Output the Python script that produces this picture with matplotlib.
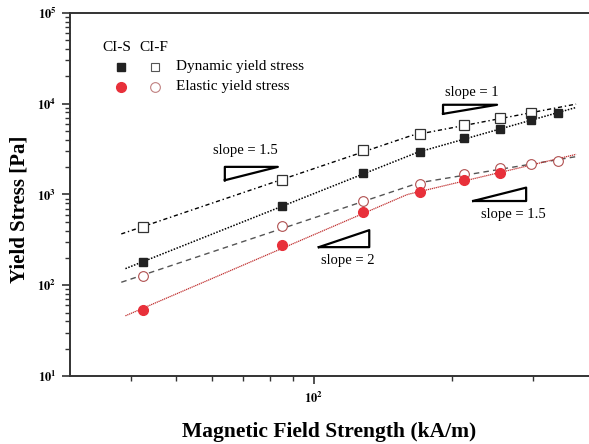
import numpy as np
import matplotlib.pyplot as plt
from matplotlib.ticker import FixedLocator, NullFormatter, LogLocator

plt.rcParams['font.family'] = ['Liberation Serif', 'DejaVu Serif']
plt.rcParams['mathtext.fontset'] = 'stix'

# magnetic field strength (kA/m)
field = [42.4, 85, 128, 170, 212, 255, 298, 341]

# yield stress (Pa)
dyn_cis = [180, 750, 1720, 2900, 4150, 5300, 6600, 7900]
dyn_cif = [440, 1450, 3100, 4600, 5800, 6900, 7900]
ela_cis = [53, 278, 640, 1060, 1450, 1720]
ela_cif = [125, 450, 850, 1290, 1700, 1960, 2150, 2350]

# slope guide annotations: (label, slope)
guides = [('slope = 1.5', 1.5), ('slope = 1', 1), ('slope = 2', 2), ('slope = 1.5', 1.5)]

XMIN, XMAX = 29.3, 398


def bent_fit(x, y, x0, x1):
    # two power-law fits (low / high field) joined where they cross
    lx, ly = np.log10(x), np.log10(y)
    a = np.polyfit(lx[:4], ly[:4], 1)
    b = np.polyfit(lx[3:], ly[3:], 1)
    xx = np.logspace(np.log10(x0), np.log10(x1), 200)
    yy = np.minimum(np.polyval(a, np.log10(xx)), np.polyval(b, np.log10(xx)))
    return xx, 10 ** yy


fig = plt.figure(figsize=(5.89, 4.44), dpi=100)
ax = fig.add_axes([0.118, 0.153, 0.882, 0.818])
ax.set_xscale('log')
ax.set_yscale('log')
ax.set_xlim(XMIN, XMAX)
ax.set_ylim(10, 1e5)

fx = np.array(field)
xx, yy = bent_fit(fx[:len(dyn_cif)], np.array(dyn_cif), 38, 373)
ax.plot(xx, yy, color='black', lw=1, ls=(0, (3, 2, 1, 2)))
xx, yy = bent_fit(fx, np.array(dyn_cis), 38.8, 373)
ax.plot(xx, yy, color='black', lw=1.1, ls=(0, (1, 1)))
xx, yy = bent_fit(fx, np.array(ela_cif), 38, 373)
ax.plot(xx, yy, color='#555555', lw=1, ls=(0, (4, 3)))
xx, yy = bent_fit(fx[:len(ela_cis)], np.array(ela_cis), 38.8, 373)
ax.plot(xx, yy, color='#c03030', lw=0.9, ls=(0, (1, 0.6)))

ax.plot(fx[:len(dyn_cif)], dyn_cif, 's', ms=6.5, mfc='white', mec='#333333', mew=0.9, ls='none')
ax.plot(fx, dyn_cis, 's', ms=6, color='#222222', ls='none')
ax.plot(fx, ela_cif, 'o', ms=7, mfc='white', mec='#b05050', mew=0.8, ls='none')
ax.plot(fx[:len(ela_cis)], ela_cis, 'o', ms=7, color='#e8303a', ls='none')

# slope triangles, corner and width in axes fraction
tri = [
    ((0.299, 0.576), 0.102, 'up', (0.338, 0.62)),
    ((0.719, 0.747), 0.104, 'up', (0.775, 0.782)),
    ((0.480, 0.355), 0.097, 'down', (0.536, 0.317)),
    ((0.777, 0.482), 0.102, 'down', (0.854, 0.446)),
]
for (lab, s), ((x0, y0), w, kind, tpos) in zip(guides, tri):
    h = w * s * np.log10(XMAX / XMIN) / 4 * 0.85
    if kind == 'up':
        pts = [(x0, y0 - h), (x0, y0), (x0 + w, y0), (x0, y0 - h)]
    else:
        pts = [(x0, y0), (x0 + w, y0), (x0 + w, y0 + h), (x0, y0)]
    px, py = zip(*pts)
    ax.plot(px, py, color='black', lw=1.6, transform=ax.transAxes, clip_on=False)
    ax.text(tpos[0], tpos[1], lab, transform=ax.transAxes, fontsize=10.5, ha='center', va='center')

# legend drawn by hand
ax.text(0.063, 0.904, 'CI-S', transform=ax.transAxes, fontsize=11, ha='left', va='center')
ax.text(0.135, 0.904, 'CI-F', transform=ax.transAxes, fontsize=11, ha='left', va='center')
ax.plot([0.099], [0.851], 's', ms=6, color='#222222', transform=ax.transAxes)
ax.plot([0.165], [0.851], 's', ms=6, mfc='white', mec='#555555', mew=0.8, transform=ax.transAxes)
ax.plot([0.099], [0.796], 'o', ms=7, color='#e8303a', transform=ax.transAxes)
ax.plot([0.165], [0.796], 'o', ms=7, mfc='white', mec='#c08080', mew=0.8, transform=ax.transAxes)
ax.text(0.205, 0.851, 'Dynamic yield stress', transform=ax.transAxes, fontsize=11, va='center')
ax.text(0.205, 0.796, 'Elastic yield stress', transform=ax.transAxes, fontsize=11, va='center')

# ticks
ax.yaxis.set_major_locator(FixedLocator([10, 100, 1e3, 1e4, 1e5]))
ax.set_yticklabels([r'$\mathbf{10^{%d}}$' % k for k in range(1, 6)], fontsize=9)
ax.yaxis.set_minor_locator(LogLocator(base=10, subs=np.arange(2, 10)))
ax.yaxis.set_minor_formatter(NullFormatter())
ax.xaxis.set_major_locator(FixedLocator([100]))
ax.set_xticklabels([r'$\mathbf{10^{2}}$'], fontsize=9)
ax.xaxis.set_minor_locator(FixedLocator([40, 50, 60, 70, 80, 90, 200, 300]))
ax.xaxis.set_minor_formatter(NullFormatter())
ax.tick_params(which='major', direction='out', length=6, width=1.2, color='#333333')
ax.tick_params(which='minor', direction='out', length=3.5, width=1, color='#333333')
ax.tick_params(axis='x', pad=5)

for side in ['left', 'bottom', 'top']:
    ax.spines[side].set_linewidth(1.4)
    ax.spines[side].set_color('#333333')
ax.spines['right'].set_visible(False)

ax.set_ylabel('Yield Stress [Pa]', fontsize=15, fontweight='bold', va='center')
ax.yaxis.set_label_coords(-0.097, 0.46)
ax.set_xlabel('Magnetic Field Strength (kA/m)', fontsize=15.5, fontweight='bold', labelpad=11)

fig.savefig('out.png', dpi=100)
